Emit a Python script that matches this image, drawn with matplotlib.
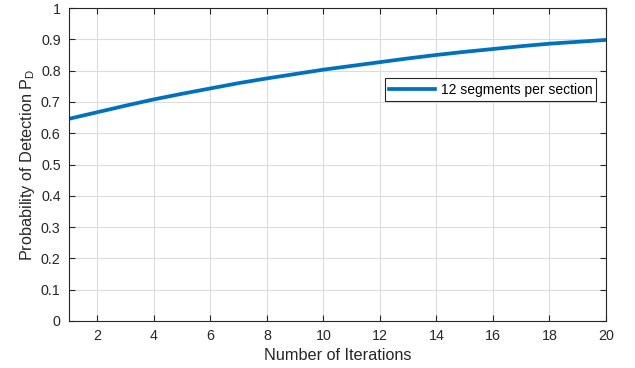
import matplotlib
matplotlib.use("Agg")
import matplotlib.pyplot as plt
import numpy as np

plt.rcParams['font.family'] = ['Liberation Sans', 'DejaVu Sans']
plt.rcParams['mathtext.fontset'] = 'custom'
plt.rcParams['mathtext.rm'] = 'Liberation Sans'
plt.rcParams['mathtext.it'] = 'Liberation Sans'

iterations = list(range(1, 21))
pd_values = [0.646, 0.667, 0.688, 0.708, 0.726, 0.743, 0.760, 0.775, 0.789,
             0.803, 0.815, 0.827, 0.839, 0.850, 0.860, 0.869, 0.878, 0.886,
             0.892, 0.898]
series_label = "12 segments per section"
x_ticks = [2, 4, 6, 8, 10, 12, 14, 16, 18, 20]
y_ticks = [0, 0.1, 0.2, 0.3, 0.4, 0.5, 0.6, 0.7, 0.8, 0.9, 1]
y_tick_labels = ["0", "0.1", "0.2", "0.3", "0.4", "0.5", "0.6", "0.7", "0.8", "0.9", "1"]

fig = plt.figure(figsize=(6.35, 3.68), dpi=100)
ax = fig.add_axes([69/635, 1-321/368, (606-69)/635, (321-8)/368])

ax.plot(iterations, pd_values, color='#0072BD', linewidth=2.7, label=series_label)

ax.set_xlim(1, 20)
ax.set_ylim(0, 1)
ax.set_xticks(x_ticks)
ax.set_yticks(y_ticks)
ax.set_yticklabels(y_tick_labels)
ax.grid(True, color='#dcdcdc', linewidth=0.8)
ax.set_axisbelow(True)

axis_color = '#262626'
for s in ax.spines.values():
    s.set_color(axis_color)
    s.set_linewidth(0.8)
ax.tick_params(direction='in', top=True, right=True, length=4, width=0.8,
               colors=axis_color, labelsize=10.3, pad=6)
for lab in ax.get_xticklabels() + ax.get_yticklabels():
    lab.set_color('#262626')

ax.set_xlabel("Number of Iterations", fontsize=11.7, color='#262626', labelpad=3)
ax.set_ylabel("Probability of Detection P$_\\mathregular{D}$", fontsize=11.7,
              color='#262626', labelpad=3)

leg = ax.legend(loc='upper right', bbox_to_anchor=(0.982, 0.775), fontsize=10,
                frameon=True, fancybox=False, framealpha=1, edgecolor='#262626',
                handlelength=3.3, borderpad=0.3, handletextpad=0.4, borderaxespad=0)
leg.get_frame().set_linewidth(0.8)

fig.savefig("out.png", dpi=100)
